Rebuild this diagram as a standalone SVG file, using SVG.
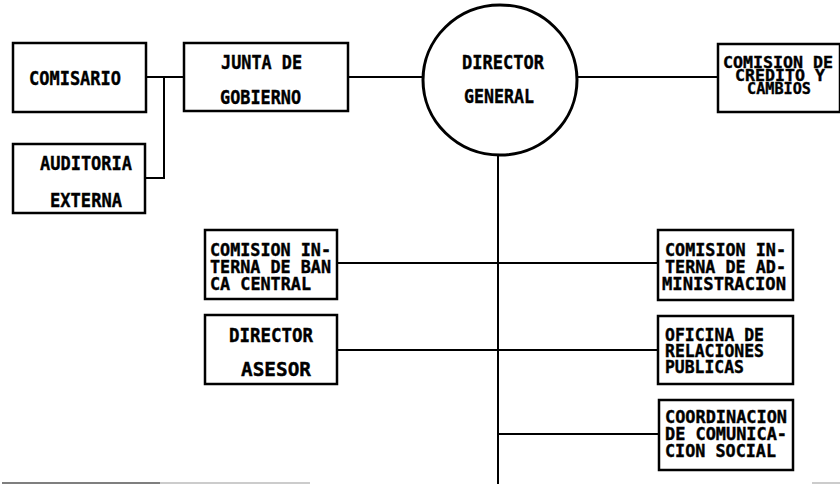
<svg xmlns="http://www.w3.org/2000/svg" width="840" height="484" viewBox="0 0 840 484">
<style>
  .box { fill: #fff; stroke: #000; stroke-width: 2.5; }
  .ln { fill: none; stroke: #000; stroke-width: 2; }
  text { font-family: "DejaVu Sans Mono", "Liberation Mono", monospace; font-weight: bold; font-size: 20px; fill: #000; stroke: #000; stroke-width: 0.4; }
  .sm { font-size: 18px; }
  .xs { font-size: 16.5px; }
</style>
<rect width="840" height="484" fill="#fff"/>
<g id="connectors">
  <path class="ln" d="M146 77 H184"/>
  <path class="ln" d="M164 77 V178 H145"/>
  <path class="ln" d="M348 77 H423"/>
  <path class="ln" d="M577 77 H718"/>
  <path class="ln" d="M498 155 V484"/>
  <path class="ln" d="M337 263 H658"/>
  <path class="ln" d="M337 350 H658"/>
  <path class="ln" d="M498 434 H658"/>
</g>
<g id="comisario">
  <rect class="box" x="13" y="43" width="133" height="69"/>
  <text x="29" y="85" textLength="92" lengthAdjust="spacingAndGlyphs">COMISARIO</text>
</g>
<g id="auditoria">
  <rect class="box" x="13" y="144" width="132" height="69"/>
  <text x="40" y="170" textLength="92" lengthAdjust="spacingAndGlyphs">AUDITORIA</text>
  <text x="50" y="207" textLength="72" lengthAdjust="spacingAndGlyphs">EXTERNA</text>
</g>
<g id="junta">
  <rect class="box" x="184" y="43" width="164" height="68"/>
  <text x="221" y="69" textLength="81" lengthAdjust="spacingAndGlyphs">JUNTA DE</text>
  <text x="220" y="104" textLength="81" lengthAdjust="spacingAndGlyphs">GOBIERNO</text>
</g>
<g id="director-general">
  <ellipse cx="500" cy="80" rx="77" ry="75" fill="#fff" stroke="#000" stroke-width="3"/>
  <text x="462" y="69" textLength="82" lengthAdjust="spacingAndGlyphs">DIRECTOR</text>
  <text x="464" y="103" textLength="70" lengthAdjust="spacingAndGlyphs">GENERAL</text>
</g>
<g id="comision-credito">
  <rect class="box" x="718" y="44" width="122" height="68"/>
  <text class="xs" x="723" y="68" textLength="110" lengthAdjust="spacingAndGlyphs">COMISION DE</text>
  <text class="xs" x="735" y="81" textLength="90" lengthAdjust="spacingAndGlyphs">CREDITO Y</text>
  <text class="xs" x="747" y="94" textLength="64" lengthAdjust="spacingAndGlyphs">CAMBIOS</text>
</g>
<g id="comision-banca">
  <rect class="box" x="205" y="230" width="132" height="69"/>
  <text class="sm" x="210" y="256" textLength="121" lengthAdjust="spacingAndGlyphs">COMISION IN-</text>
  <text class="sm" x="210" y="273" textLength="121" lengthAdjust="spacingAndGlyphs">TERNA DE BAN</text>
  <text class="sm" x="210" y="290" textLength="101" lengthAdjust="spacingAndGlyphs">CA CENTRAL</text>
</g>
<g id="director-asesor">
  <rect class="box" x="205" y="315" width="132" height="69"/>
  <text x="229" y="342" textLength="84" lengthAdjust="spacingAndGlyphs">DIRECTOR</text>
  <text x="241" y="376" textLength="70" lengthAdjust="spacingAndGlyphs">ASESOR</text>
</g>
<g id="comision-administracion">
  <rect class="box" x="658" y="230" width="135" height="70"/>
  <text class="sm" x="665" y="256" textLength="121" lengthAdjust="spacingAndGlyphs">COMISION IN-</text>
  <text class="sm" x="665" y="273" textLength="121" lengthAdjust="spacingAndGlyphs">TERNA DE AD-</text>
  <text class="sm" x="662" y="290" textLength="124" lengthAdjust="spacingAndGlyphs">MINISTRACION</text>
</g>
<g id="relaciones-publicas">
  <rect class="box" x="658" y="316" width="135" height="68"/>
  <text class="sm" x="665" y="341" textLength="99" lengthAdjust="spacingAndGlyphs">OFICINA DE</text>
  <text class="sm" x="665" y="357" textLength="99" lengthAdjust="spacingAndGlyphs">RELACIONES</text>
  <text class="sm" x="665" y="373" textLength="79" lengthAdjust="spacingAndGlyphs">PUBLICAS</text>
</g>
<g id="comunicacion-social">
  <rect class="box" x="659" y="400" width="134" height="70"/>
  <text class="sm" x="665" y="423" textLength="122" lengthAdjust="spacingAndGlyphs">COORDINACION</text>
  <text class="sm" x="665" y="440" textLength="122" lengthAdjust="spacingAndGlyphs">DE COMUNICA-</text>
  <text class="sm" x="665" y="457" textLength="111" lengthAdjust="spacingAndGlyphs">CION SOCIAL</text>
</g>
<g id="cut-edges">
  <path d="M2 483 H160" stroke="#555" stroke-width="1.5"/>
  <path d="M160 483 H310" stroke="#bbb" stroke-width="1.5"/>
  <path d="M812 483 H840" stroke="#bbb" stroke-width="1.5"/>
</g>
</svg>
